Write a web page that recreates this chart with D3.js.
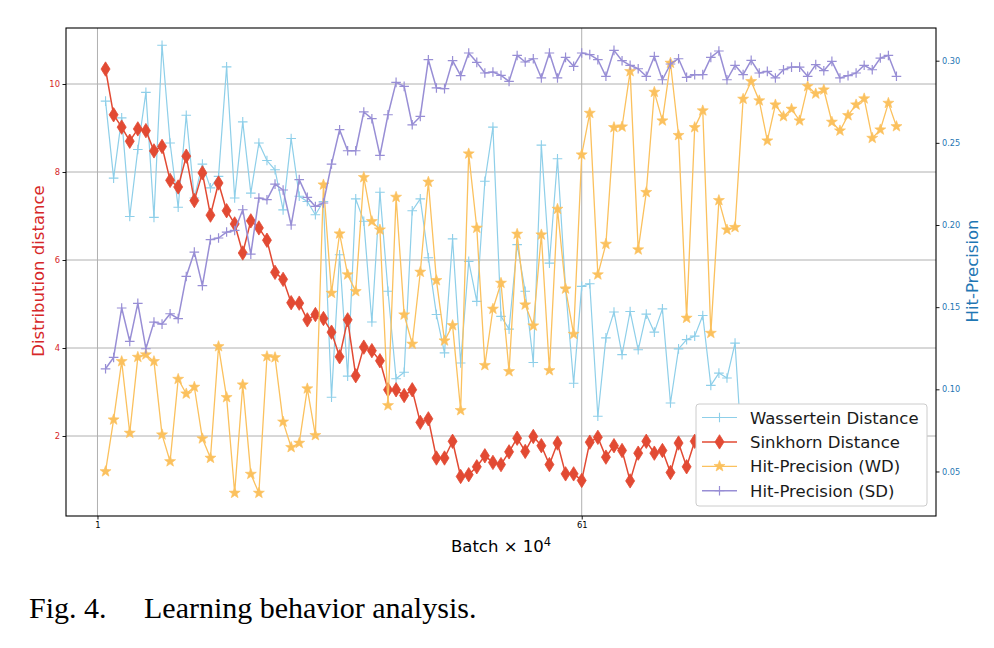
<!DOCTYPE html>
<html>
<head>
<meta charset="utf-8">
<script src="https://cdn.jsdelivr.net/npm/d3@7"></script>
<style>
  html, body { margin: 0; padding: 0; background: #fff; }
  svg { display: block; }
</style>
</head>
<body>
<svg id="chart" width="994" height="648"></svg>
<script>
// ---------------- data ----------------
const xTickValues = [1, 61];
const xTickLabels = ["1", "61"];
const leftTicks = [2, 4, 6, 8, 10];
const rightTicks = [0.05, 0.10, 0.15, 0.20, 0.25, 0.30];

const wasserstein = [9.61, 7.86, 9.23, 6.99, 8.51, 9.81, 6.97, 10.88, 8.66, 7.20,
  9.29, 7.41, 8.18, 7.64, 7.90, 10.39, 7.41, 9.14, 7.52, 8.66,
  8.26, 8.05, 7.14, 8.76, 7.45, 7.33, 7.03, 7.33, 2.88, 6.12,
  3.36, 7.39, 6.88, 4.59, 7.54, 5.29, 3.30, 3.45, 7.12, 7.39,
  6.05, 4.76, 3.89, 6.48, 3.66, 5.97, 5.06, 7.79, 9.02, 4.72,
  4.43, 6.35, 5.29, 3.67, 8.61, 5.93, 8.30, 5.36, 3.20, 5.40,
  5.46, 2.45, 4.23, 4.82, 3.85, 4.83, 3.96, 4.77, 4.36, 4.89,
  2.75, 3.98, 4.19, 4.27, 4.74, 3.15, 3.43, 3.32, 4.11, 1.20];

const sinkhorn = [10.34, 9.30, 9.02, 8.70, 8.98, 8.94, 8.48, 8.58, 7.81, 7.66,
  8.36, 7.35, 7.98, 7.02, 7.75, 7.12, 6.82, 6.16, 6.89, 6.73,
  6.45, 5.72, 5.56, 5.03, 5.02, 4.64, 4.76, 4.67, 4.36, 3.80,
  4.64, 3.37, 4.02, 3.94, 3.71, 3.05, 3.05, 2.92, 3.05, 2.31,
  2.39, 1.50, 1.50, 1.88, 1.08, 1.12, 1.30, 1.55, 1.40, 1.35,
  1.64, 1.95, 1.65, 1.99, 1.78, 1.35, 1.84, 1.14, 1.14, 0.99,
  1.86, 1.97, 1.52, 1.78, 1.67, 0.98, 1.61, 1.88, 1.61, 1.67,
  1.17, 1.84, 1.30, 1.88];

const hitWD = [0.050, 0.0815, 0.117, 0.0734, 0.1196, 0.1211, 0.117, 0.0724, 0.0561, 0.1062,
  0.0973, 0.1014, 0.070, 0.0582, 0.1261, 0.0951, 0.0369, 0.1028, 0.0484, 0.0369,
  0.1200, 0.1194, 0.0802, 0.0647, 0.0673, 0.1004, 0.0720, 0.2245, 0.1586, 0.1947,
  0.1698, 0.1596, 0.2290, 0.2022, 0.1971, 0.0902, 0.2170, 0.1454, 0.1276, 0.1714,
  0.2262, 0.1663, 0.1296, 0.1389, 0.0872, 0.2434, 0.1982, 0.1146, 0.1489, 0.1647,
  0.1109, 0.1945, 0.1515, 0.1387, 0.1941, 0.1115, 0.2097, 0.1612, 0.1336, 0.2428,
  0.2681, 0.1698, 0.1884, 0.2594, 0.2598, 0.2935, 0.1850, 0.2199, 0.2809, 0.2635,
  0.2986, 0.2546, 0.1434, 0.2594, 0.2696, 0.1342, 0.2150, 0.1971, 0.1986, 0.2767,
  0.2874, 0.2757, 0.2513, 0.2732, 0.2661, 0.2706, 0.2635, 0.2844, 0.2799, 0.2823,
  0.2627, 0.2574, 0.2667, 0.2732, 0.2769, 0.2529, 0.2580, 0.2742, 0.2600];

const hitSD = [0.1125, 0.1194, 0.1495, 0.1292, 0.1523, 0.1247, 0.1409, 0.1397, 0.1460, 0.1430,
  0.1687, 0.1835, 0.1631, 0.1911, 0.1921, 0.1957, 0.1967, 0.2093, 0.1823, 0.2164,
  0.2154, 0.2249, 0.2213, 0.2000, 0.2276, 0.2168, 0.2113, 0.2134, 0.2371, 0.2580,
  0.2452, 0.2452, 0.2688, 0.2647, 0.2424, 0.2671, 0.2868, 0.2844, 0.2610, 0.2661,
  0.3006, 0.2834, 0.2830, 0.3000, 0.2909, 0.3047, 0.2990, 0.2925, 0.2931, 0.2911,
  0.2874, 0.3032, 0.2992, 0.3012, 0.2895, 0.3047, 0.2895, 0.3020, 0.2966, 0.3047,
  0.3037, 0.3006, 0.2905, 0.3063, 0.3000, 0.2972, 0.2951, 0.2905, 0.3026, 0.2884,
  0.2980, 0.3012, 0.2899, 0.2915, 0.2915, 0.3020, 0.3059, 0.2884, 0.2972, 0.2915,
  0.3002, 0.2925, 0.2935, 0.2895, 0.2945, 0.2961, 0.2961, 0.2905, 0.2976, 0.2939,
  0.2996, 0.2895, 0.2909, 0.2925, 0.2972, 0.2945, 0.3016, 0.3032, 0.2905];

const firstBatch = 2; // first plotted batch index

// ---------------- layout ----------------
const svg = d3.select("#chart");
const L = 66, R = 936, T = 28, B = 516;
const FONT = "'DejaVu Sans', sans-serif";
const RED_AX = "#d62728", BLUE_AX = "#1f77b4";

const x = d3.scaleLinear().domain([-2.9, 104.9]).range([L, R]);
const yL = d3.scaleLinear().domain([0.182, 11.273]).range([B, T]);
const yR = d3.scaleLinear().domain([0.0229, 0.3199]).range([B, T]);

// grid
const grid = svg.append("g");
grid.selectAll("line.h").data(leftTicks).enter().append("line")
  .attr("x1", L).attr("x2", R)
  .attr("y1", d => yL(d)).attr("y2", d => yL(d))
  .attr("stroke", "#b0b0b0").attr("stroke-width", 1);
grid.selectAll("line.v").data(xTickValues).enter().append("line")
  .attr("y1", T).attr("y2", B)
  .attr("x1", d => x(d)).attr("x2", d => x(d))
  .attr("stroke", "#b0b0b0").attr("stroke-width", 1);

// clip
svg.append("clipPath").attr("id", "plotclip").append("rect")
  .attr("x", L).attr("y", T).attr("width", R - L).attr("height", B - T);

const plot = svg.append("g").attr("clip-path", "url(#plotclip)");

function pts(arr) { return arr.map((v, i) => [firstBatch + i, v]); }

const plusPath = "M-4.8,0H4.8M0,-4.8V4.8";
const diamondPath = "M0,-7.2L4.5,0L0,7.2L-4.5,0Z";
function starPath(ro, ri) {
  let p = "";
  for (let k = 0; k < 10; k++) {
    const r = k % 2 === 0 ? ro : ri;
    const a = -Math.PI / 2 + k * Math.PI / 5;
    p += (k === 0 ? "M" : "L") + (r * Math.cos(a)).toFixed(2) + "," + (r * Math.sin(a)).toFixed(2);
  }
  return p + "Z";
}
const starD = starPath(5.8, 2.4);

const series = [
  { name: "Wassertein Distance", data: wasserstein, y: yL, color: "#8ecfe9", lw: 1.2, marker: plusPath, mfill: "none", mstroke: 1.1 },
  { name: "Sinkhorn Distance", data: sinkhorn, y: yL, color: "#e24a33", lw: 1.5, marker: diamondPath, mfill: "#e24a33", mstroke: 0.8 },
  { name: "Hit-Precision (WD)", data: hitWD, y: yR, color: "#fbc15e", lw: 1.3, marker: starD, mfill: "#fbc15e", mstroke: 0.6 },
  { name: "Hit-Precision (SD)", data: hitSD, y: yR, color: "#988ed5", lw: 1.5, marker: plusPath, mfill: "none", mstroke: 1.2 }
];

series.forEach(s => {
  const g = plot.append("g");
  const line = d3.line().x(d => x(d[0])).y(d => s.y(d[1]));
  const p = pts(s.data);
  g.append("path").attr("d", line(p)).attr("fill", "none")
    .attr("stroke", s.color).attr("stroke-width", s.lw).attr("stroke-linejoin", "round");
  g.selectAll("path.m").data(p).enter().append("path")
    .attr("transform", d => `translate(${x(d[0])},${s.y(d[1])})`)
    .attr("d", s.marker)
    .attr("fill", s.mfill)
    .attr("stroke", s.color)
    .attr("stroke-width", s.mstroke);
});

// axes
const axL = d3.axisLeft(yL).tickValues(leftTicks).tickFormat(d3.format("d")).tickSize(3.5).tickPadding(2.5);
const gL = svg.append("g").attr("transform", `translate(${L},0)`).call(axL);
gL.select(".domain").remove();
gL.selectAll(".tick line").attr("stroke", "#000").attr("stroke-width", 0.9);
gL.selectAll(".tick text").attr("fill", RED_AX).style("font-family", FONT).style("font-size", "8.4px");

const axR = d3.axisRight(yR).tickValues(rightTicks).tickFormat(d3.format(".2f")).tickSize(3.5).tickPadding(2.5);
const gR = svg.append("g").attr("transform", `translate(${R},0)`).call(axR);
gR.select(".domain").remove();
gR.selectAll(".tick line").attr("stroke", "#000").attr("stroke-width", 0.9);
gR.selectAll(".tick text").attr("fill", BLUE_AX).style("font-family", FONT).style("font-size", "8.2px");

const axB = d3.axisBottom(x).tickValues(xTickValues).tickFormat((d, i) => xTickLabels[i]).tickSize(3.5).tickPadding(2.5);
const gB = svg.append("g").attr("transform", `translate(0,${B})`).call(axB);
gB.select(".domain").remove();
gB.selectAll(".tick line").attr("stroke", "#000").attr("stroke-width", 0.9);
gB.selectAll(".tick text").attr("fill", "#000").style("font-family", FONT).style("font-size", "8.4px");

// frame
svg.append("rect").attr("x", L).attr("y", T).attr("width", R - L).attr("height", B - T)
  .attr("fill", "none").attr("stroke", "#000").attr("stroke-width", 1.1);

// axis labels
svg.append("text").attr("transform", `translate(44,271) rotate(-90)`)
  .attr("text-anchor", "middle").attr("fill", RED_AX)
  .style("font-family", FONT).style("font-size", "16.5px")
  .text("Distribution distance");

svg.append("text").attr("transform", `translate(978,271) rotate(-90)`)
  .attr("text-anchor", "middle").attr("fill", BLUE_AX)
  .style("font-family", FONT).style("font-size", "16.5px")
  .text("Hit-Precision");

const xl = svg.append("text").attr("x", 501).attr("y", 552).attr("text-anchor", "middle")
  .attr("fill", "#000").style("font-family", FONT).style("font-size", "16.5px");
xl.append("tspan").text("Batch \u00d7 10");
xl.append("tspan").attr("dy", -6).style("font-size", "11.5px").text("4");

// legend
const lg = svg.append("g").attr("transform", "translate(696,404)");
lg.append("rect").attr("width", 231).attr("height", 102).attr("rx", 3)
  .attr("fill", "#fff").attr("stroke", "#cccccc").attr("stroke-width", 1);
series.forEach((s, i) => {
  const cy = 13.5 + i * 24.4;
  lg.append("line").attr("x1", 6).attr("x2", 41).attr("y1", cy).attr("y2", cy)
    .attr("stroke", s.color).attr("stroke-width", s.lw);
  lg.append("path").attr("transform", `translate(23.5,${cy})`).attr("d", s.marker)
    .attr("fill", s.mfill).attr("stroke", s.color).attr("stroke-width", s.mstroke);
  lg.append("text").attr("x", 54).attr("y", cy + 6)
    .attr("fill", "#1a1a1a").style("font-family", FONT).style("font-size", "16.5px")
    .text(s.name);
});

// caption
const cap = svg.append("text").attr("x", 29).attr("y", 618)
  .attr("fill", "#000").style("font-family", "'Liberation Serif', 'Times New Roman', serif").style("font-size", "30px");
cap.append("tspan").text("Fig. 4.");
cap.append("tspan").attr("x", 144).text("Learning behavior analysis.");
</script>
</body>
</html>
